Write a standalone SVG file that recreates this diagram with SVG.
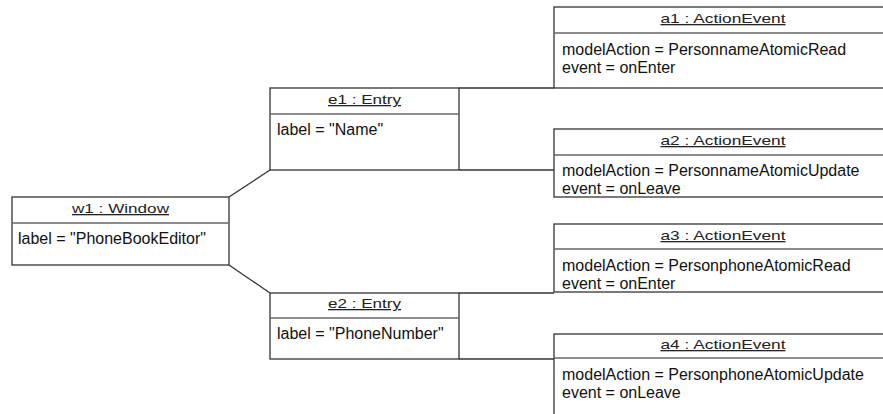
<svg xmlns="http://www.w3.org/2000/svg" width="883" height="414" viewBox="0 0 883 414">
<style>
.box{fill:#fff;stroke:#333;stroke-width:1.3}
.div{stroke:#666;stroke-width:1.3}
.hd{font-family:"Liberation Sans",Arial,sans-serif;font-size:13px;fill:#222;text-decoration:underline;text-anchor:middle}
.bd{font-family:"Liberation Sans",Arial,sans-serif;font-size:16px;fill:#111}
.conn{stroke:#333;stroke-width:1.3;fill:none}
</style>
<rect width="883" height="414" fill="#fff"/>
<g id="connectors">
<line class="conn" x1="229" y1="197" x2="270" y2="170"/>
<line class="conn" x1="229" y1="265" x2="270" y2="293"/>
<line class="conn" x1="459" y1="88" x2="554" y2="88"/>
<line class="conn" x1="459" y1="170" x2="554" y2="170"/>
<line class="conn" x1="459" y1="293" x2="554" y2="293"/>
<line class="conn" x1="459" y1="359" x2="554" y2="359"/>
</g>
<g id="a1">
<rect class="box" x="554" y="7" width="338" height="81"/>
<line class="div" x1="554" y1="33" x2="892" y2="33"/>
<text class="hd" x="723" y="23" textLength="125" lengthAdjust="spacingAndGlyphs">a1 : ActionEvent</text>
<text class="bd" x="562" y="55">modelAction = PersonnameAtomicRead</text>
<text class="bd" x="562" y="73">event = onEnter</text>
</g>
<g id="a2">
<rect class="box" x="554" y="129" width="338" height="68"/>
<line class="div" x1="554" y1="155" x2="892" y2="155"/>
<text class="hd" x="723" y="145" textLength="125" lengthAdjust="spacingAndGlyphs">a2 : ActionEvent</text>
<text class="bd" x="562" y="176">modelAction = PersonnameAtomicUpdate</text>
<text class="bd" x="562" y="194">event = onLeave</text>
</g>
<g id="a3">
<rect class="box" x="554" y="224" width="338" height="68"/>
<line class="div" x1="554" y1="249" x2="892" y2="249"/>
<text class="hd" x="723" y="240" textLength="125" lengthAdjust="spacingAndGlyphs">a3 : ActionEvent</text>
<text class="bd" x="562" y="271">modelAction = PersonphoneAtomicRead</text>
<text class="bd" x="562" y="289">event = onEnter</text>
</g>
<g id="a4">
<rect class="box" x="554" y="334" width="338" height="90"/>
<line class="div" x1="554" y1="358" x2="892" y2="358"/>
<text class="hd" x="723" y="349" textLength="125" lengthAdjust="spacingAndGlyphs">a4 : ActionEvent</text>
<text class="bd" x="562" y="380">modelAction = PersonphoneAtomicUpdate</text>
<text class="bd" x="562" y="398">event = onLeave</text>
</g>
<g id="e1">
<rect class="box" x="270" y="88" width="189" height="82"/>
<line class="div" x1="270" y1="114" x2="459" y2="114"/>
<text class="hd" x="364.5" y="104" textLength="73" lengthAdjust="spacingAndGlyphs">e1 : Entry</text>
<text class="bd" x="277" y="135">label = "Name"</text>
</g>
<g id="e2">
<rect class="box" x="270" y="293" width="189" height="66"/>
<line class="div" x1="270" y1="318" x2="459" y2="318"/>
<text class="hd" x="364.5" y="308" textLength="73" lengthAdjust="spacingAndGlyphs">e2 : Entry</text>
<text class="bd" x="277" y="339">label = "PhoneNumber"</text>
</g>
<g id="w1">
<rect class="box" x="12" y="197" width="217" height="68"/>
<line class="div" x1="12" y1="223" x2="229" y2="223"/>
<text class="hd" x="120.5" y="213" textLength="97" lengthAdjust="spacingAndGlyphs">w1 : Window</text>
<text class="bd" x="18" y="244">label = "PhoneBookEditor"</text>
</g>
</svg>
